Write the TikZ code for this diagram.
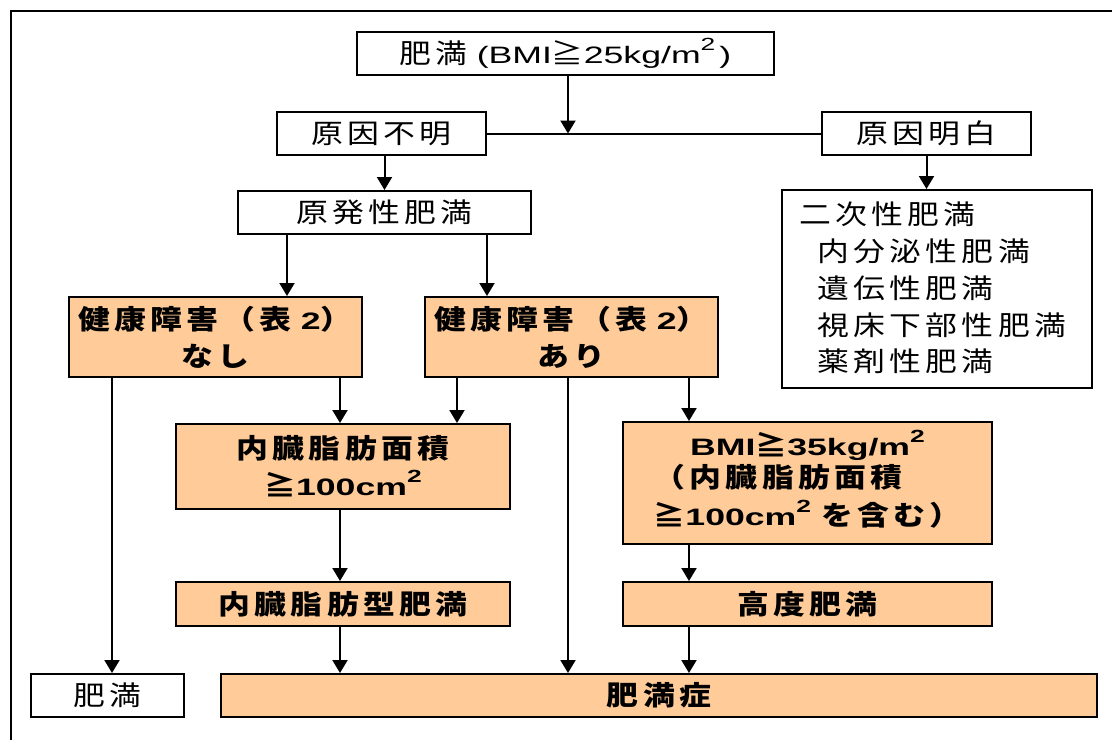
\documentclass[tikz,border=0pt]{standalone}
\usepackage{fontspec}
\usetikzlibrary{arrows.meta}
\newfontfamily\jpf{Noto Sans CJK JP}[FakeStretch=1.18,LetterSpace=16]
\newfontfamily\ltf{Liberation Sans}[FakeStretch=1.5,Scale=0.88]
\newcommand\supii{\raisebox{13pt}{\ltf\fontsize{20}{20}\selectfont 2}}
\definecolor{peach}{HTML}{FFCC99}
\tikzset{
  box/.style={draw, line width=2pt, inner sep=0pt, align=center},
  plain/.style={box, fill=white, font=\jpf\fontsize{27}{37}\selectfont},
  hl/.style={box, fill=peach, font=\jpf\bfseries\fontsize{27}{37}\selectfont},
  txt/.style={inner sep=0pt, font=\jpf\fontsize{27}{37}\selectfont},
  arr/.style={line width=2pt, -{Triangle[length=13pt,width=15pt]}},
  ln/.style={line width=2pt},
  frame/.style={line width=2.5pt},
}
\begin{document}
\begin{tikzpicture}[x=1pt,y=-1pt]
\useasboundingbox (0,0) rectangle (1112,740);
\draw[frame] (11,740) -- (11,11) -- (1112,11);

\node[plain, minimum width=417pt, minimum height=43pt] (top) at (565.5,53.5) {肥満\kern9pt{\ltf (BMI}≧{\ltf 25kg/m\supii\kern4pt)}};
\node[plain, minimum width=209pt, minimum height=43pt] (unk) at (381.5,133.5) {原因不明};
\node[plain, minimum width=209pt, minimum height=43pt] (known) at (926.5,133.5) {原因明白};
\node[plain, minimum width=293pt, minimum height=43pt] (prim) at (384.5,212.5) {原発性肥満};
\node[plain, minimum width=310pt, minimum height=198pt] (sec) at (937,289) {};
\node[txt, anchor=base west] (s1) at (799,224) {二次性肥満};
\node[txt, anchor=base west] (s2) at (817,261) {内分泌性肥満};
\node[txt, anchor=base west] (s3) at (817,298) {遺伝性肥満};
\node[txt, anchor=base west] (s4) at (817,335) {視床下部性肥満};
\node[txt, anchor=base west] (s5) at (817,371) {薬剤性肥満};

\node[hl, minimum width=293pt, minimum height=80pt] (nashi) at (215.5,337) {健康障害（表{\ltf\ 2}）\\なし};
\node[hl, minimum width=293pt, minimum height=80pt] (ari) at (571.5,337) {健康障害（表{\ltf\ 2}）\\あり};
\node[hl, minimum width=334pt, minimum height=85pt] (vis) at (343,466.5) {内臓脂肪面積\\≧{\ltf 100cm\supii}};
\node[hl, minimum width=369pt, minimum height=122pt] (bmi) at (807.5,483) {{\ltf BMI}≧{\ltf 35kg/m\supii}\\[0pt]
  \begin{tabular}{@{}l@{}}（内臓脂肪面積\\[1pt]≧{\ltf 100cm\supii\ }を含む）\end{tabular}};
\node[hl, minimum width=334pt, minimum height=44pt] (vtype) at (343,604) {内臓脂肪型肥満};
\node[hl, minimum width=369pt, minimum height=44pt] (high) at (807.5,604) {高度肥満};
\node[plain, minimum width=153pt, minimum height=43pt] (obes) at (107.5,695.5) {肥満};
\node[hl, minimum width=876pt, minimum height=43pt] (dis) at (659,695.5) {肥満症};

\coordinate (j) at (568,133.5);
\coordinate (c1) at (287,0);
\coordinate (c2) at (487,0);
\coordinate (c3) at (112,0);
\coordinate (c4) at (340,0);
\coordinate (c5) at (457,0);
\coordinate (c6) at (568,0);
\coordinate (c7) at (689,0);

\draw[arr] (top.south -| j) -- (j);
\draw[ln] (unk.east) -- (known.west);
\draw[arr] (unk.south -| prim.north) -- (prim.north);
\draw[arr] (known.south) -- (sec.north -| known.south);
\draw[arr] (prim.south -| c1) -- (nashi.north -| c1);
\draw[arr] (prim.south -| c2) -- (ari.north -| c2);
\draw[arr] (nashi.south -| c3) -- (obes.north -| c3);
\draw[arr] (nashi.south -| c4) -- (vis.north -| c4);
\draw[arr] (ari.south -| c5) -- (vis.north -| c5);
\draw[arr] (ari.south -| c6) -- (dis.north -| c6);
\draw[arr] (ari.south -| c7) -- (bmi.north -| c7);
\draw[arr] (vis.south -| c4) -- (vtype.north -| c4);
\draw[arr] (vtype.south -| c4) -- (dis.north -| c4);
\draw[arr] (bmi.south -| c7) -- (high.north -| c7);
\draw[arr] (high.south -| c7) -- (dis.north -| c7);
\end{tikzpicture}
\end{document}
